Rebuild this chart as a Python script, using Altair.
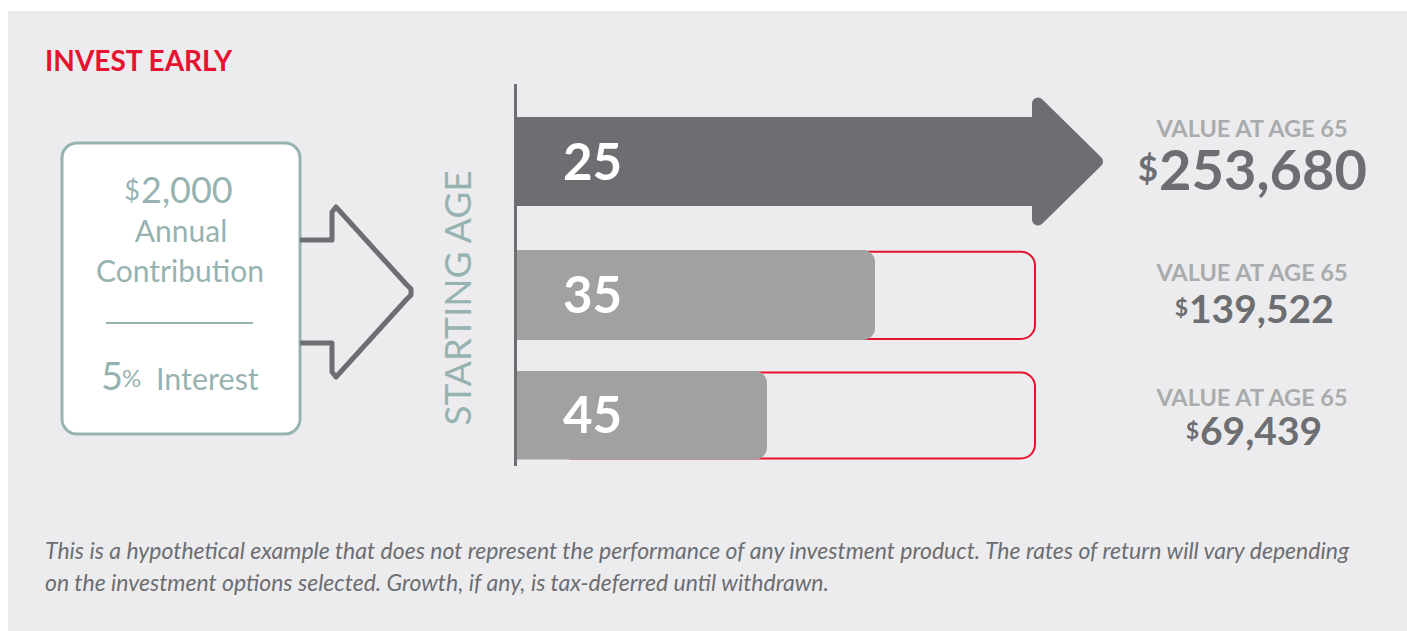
import altair as alt
import pandas as pd

# ---------------- data ----------------
title = "INVEST EARLY"
contribution = "2,000"
contribution_lines = ["Annual", "Contribution"]
interest_rate = "5"
axis_title = "STARTING AGE"
ages = ["25", "35", "45"]
values_at_65 = ["253,680", "139,522", "69,439"]
value_caption = "VALUE AT AGE 65"
# bar lengths (drawing units, start of track = 517)
bar_start = 517
bar_end = [1038, 875, 767]
track_end = 1035
footnote = [
    "This is a hypothetical example that does not represent the performance of any investment product. The rates of return will vary depending",
    "on the investment options selected. Growth, if any, is tax-deferred until withdrawn.",
]

W, H = 1407, 631
FONT = "Lato"
DARK = "#6d6e71"
MID = "#a0a1a1"
TEAL = "#97b3b1"
RED = "#e5132f"
CAP = "#a9abad"
PANEL = "#ececee"

XS = alt.Scale(domain=[0, W], nice=False, zero=False)
YS = alt.Scale(domain=[0, H], nice=False, zero=False, reverse=True)


def X(f="x"):
    return alt.X(f"{f}:Q", scale=XS, axis=None)


def Y(f="y"):
    return alt.Y(f"{f}:Q", scale=YS, axis=None)


def rect(df, **mk):
    return alt.Chart(df).mark_rect(**mk).encode(
        x=X("x"), x2="x2:Q", y=Y("y"), y2="y2:Q")


def text(df, **mk):
    mk.setdefault("baseline", "alphabetic")
    return alt.Chart(df).mark_text(font=FONT, **mk).encode(
        x=X("x"), y=Y("y"), text="t:N")


layers = []

# white outer margin (left and top) around the grey panel
layers.append(rect(pd.DataFrame({"x": [0, 0], "x2": [8, W], "y": [0, 0], "y2": [H, 11]}),
                   fill="white", stroke=None))

# title
layers.append(text(pd.DataFrame({"x": [45], "y": [71], "t": [title]}),
                   fontSize=28, fontWeight="bold", color=RED, align="left"))

# left box
layers.append(rect(pd.DataFrame({"x": [62], "x2": [300], "y": [143], "y2": [434]}),
                   fill="white", stroke=TEAL, strokeWidth=3, cornerRadius=15))
layers.append(text(pd.DataFrame({"x": [140], "y": [200], "t": ["$"]}),
                   fontSize=27, color=TEAL, align="right"))
layers.append(text(pd.DataFrame({"x": [141], "y": [203], "t": [contribution]}),
                   fontSize=36, color=TEAL, align="left"))
layers.append(text(pd.DataFrame({"x": [181, 180], "y": [242, 282], "t": contribution_lines}),
                   fontSize=30, color=TEAL, align="center"))
layers.append(alt.Chart(pd.DataFrame({"x": [106], "x2": [253], "y": [323]})).mark_rule(
    color=TEAL, strokeWidth=2).encode(x=X("x"), x2="x2:Q", y=Y("y")))
layers.append(text(pd.DataFrame({"x": [101], "y": [390], "t": [interest_rate]}),
                   fontSize=38, color=TEAL, align="left"))
layers.append(text(pd.DataFrame({"x": [122], "y": [387], "t": ["%"]}),
                   fontSize=24, color=TEAL, align="left"))
layers.append(text(pd.DataFrame({"x": [156], "y": [390], "t": ["Interest"]}),
                   fontSize=30.5, color=TEAL, align="left"))

# outline arrow
ax = [300, 332, 332, 336, 406, 411, 411, 406, 336, 332, 332, 300]
ay = [240, 240, 212, 207, 284, 289, 295, 300, 377, 372, 343, 343]
layers.append(alt.Chart(pd.DataFrame({"x": ax, "y": ay, "o": list(range(len(ax)))})).mark_line(
    color=DARK, strokeWidth=5, strokeJoin="round").encode(x=X("x"), y=Y("y"), order="o:Q"))

# axis title
layers.append(text(pd.DataFrame({"x": [460], "y": [298], "t": [axis_title]}),
                   fontSize=37, fontWeight=400, color=TEAL, angle=270,
                   align="center", baseline="middle"))

# red outline tracks (35, 45)
layers.append(rect(pd.DataFrame({"x": [bar_start + 40, bar_start + 40], "x2": [track_end, track_end],
                                 "y": [251.7, 372.5], "y2": [339, 458.5]}),
                   fill=None, fillOpacity=0, stroke=RED, strokeWidth=2, cornerRadius=14))

# grey bars (35, 45)
layers.append(rect(pd.DataFrame({"x": [bar_start, bar_start], "x2": bar_end[1:],
                                 "y": [250, 371], "y2": [340, 459.5]}),
                   fill=MID, stroke=None, cornerRadiusTopRight=12, cornerRadiusBottomRight=12))

# dark arrow (25)
layers.append(rect(pd.DataFrame({"x": [bar_start], "x2": [bar_end[0]], "y": [117], "y2": [206]}),
                   fill=DARK, stroke=None))
layers.append(alt.Chart(pd.DataFrame({"x": [bar_end[0], 1097], "y": [103.5, 161.5], "y2": [219.5, 161.5]}))
              .mark_area(color=DARK, stroke=DARK, strokeWidth=12, strokeJoin="round")
              .encode(x=X("x"), y=Y("y"), y2="y2:Q"))

# axis line
layers.append(alt.Chart(pd.DataFrame({"x": [515.5], "y": [84], "y2": [466]})).mark_rule(
    color=DARK, strokeWidth=3).encode(x=X("x"), y=Y("y"), y2="y2:Q"))

# age labels
layers.append(text(pd.DataFrame({"x": [563, 563, 563], "y": [180, 313, 433], "t": ages}),
                   fontSize=51, fontWeight="bold", color="white", align="left"))

# values at 65
layers.append(text(pd.DataFrame({"x": [1252, 1252, 1252], "y": [137, 281, 406],
                                 "t": [value_caption] * 3}),
                   fontSize=23.5, fontWeight="bold", color=CAP, align="center"))
layers.append(text(pd.DataFrame({"x": [1158], "y": [181], "t": ["$"]}),
                   fontSize=35, fontWeight="bold", color=DARK, align="right"))
layers.append(text(pd.DataFrame({"x": [1159], "y": [190], "t": [values_at_65[0]]}),
                   fontSize=56, fontWeight="bold", color=DARK, align="left"))
layers.append(text(pd.DataFrame({"x": [1188, 1199], "y": [316, 439], "t": ["$", "$"]}),
                   fontSize=23, fontWeight="bold", color=DARK, align="right"))
layers.append(text(pd.DataFrame({"x": [1189, 1200], "y": [323, 445], "t": values_at_65[1:]}),
                   fontSize=39, fontWeight="bold", color=DARK, align="left"))

# footnote
layers.append(text(pd.DataFrame({"x": [45, 45], "y": [559, 591], "t": footnote}),
                   fontSize=23, fontStyle="italic", color=DARK, align="left"))

chart = alt.layer(*layers).properties(
    width=W, height=H, background=PANEL,
    autosize=alt.AutoSizeParams(type="none"), padding=0,
).configure_view(stroke=None)

chart.save("out.html", embed_options={"renderer": "svg", "actions": False})
